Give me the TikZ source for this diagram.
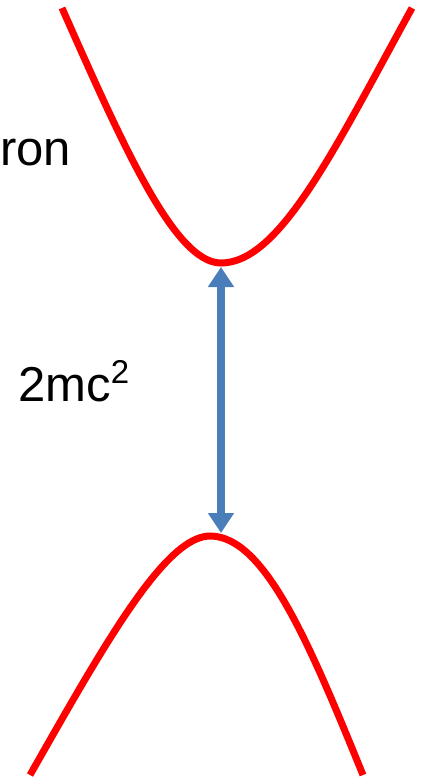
\documentclass[tikz,border=0pt]{standalone}
\usepackage{fontspec}
\setmainfont{Liberation Sans}
\usetikzlibrary{arrows.meta}
\definecolor{bandred}{RGB}{255,0,0}
\definecolor{gapblue}{RGB}{74,126,187}

\begin{document}
\begin{tikzpicture}[x=1pt,y=-1pt,
    band/.style={bandred,line width=7pt},
    gap/.style={gapblue,line width=8.5pt,
        {Triangle[width=25pt,length=20pt]}-{Triangle[width=25pt,length=20pt]}},
    lbl/.style={font=\fontsize{49}{58}\selectfont,inner sep=0pt,anchor=base west}
]
\useasboundingbox (0,0) rectangle (421,778);

% upper band
\draw[band] (62,8) .. controls (124,148) and (175,263) .. (221,263)
    .. controls (280,263) and (335,148) .. (412,8);
% lower band
\draw[band] (30,775) .. controls (104,645) and (165,536) .. (210,536)
    .. controls (265,536) and (310,645) .. (363,775);

\coordinate (topband) at (221,267);
\coordinate (botband) at (221,533);

% gap
\draw[gap] (topband) -- (botband);

\node[lbl] (partname) at (0,165) {ron};
\node[lbl] (gaplabel) at (18,401.5) {2mc\raisebox{18pt}{\fontsize{33}{33}\selectfont 2}};

\end{tikzpicture}
\end{document}
